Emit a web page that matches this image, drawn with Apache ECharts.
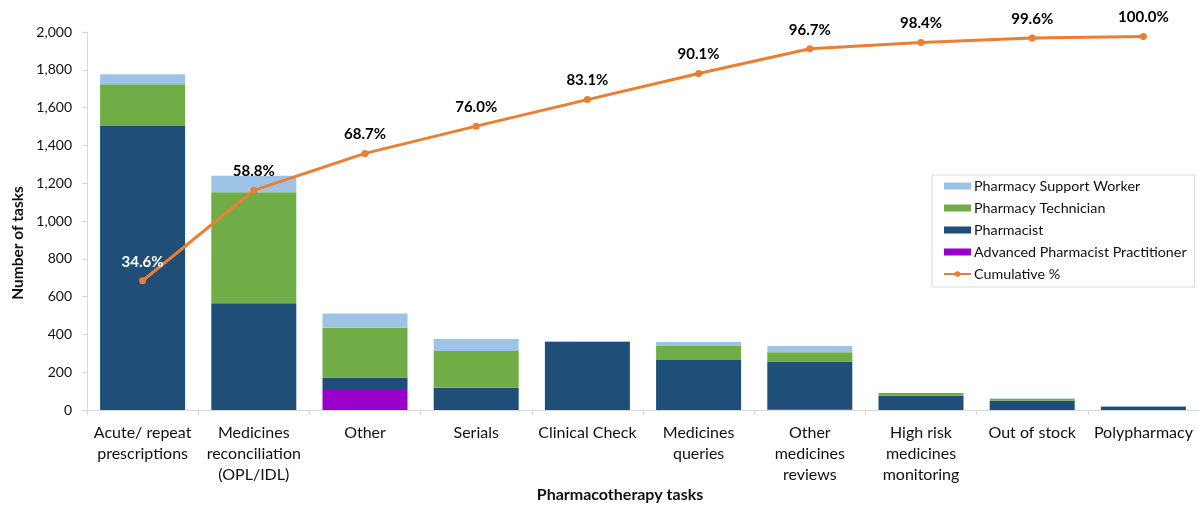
<!DOCTYPE html>
<html>
<head>
<meta charset="utf-8">
<script src="https://cdn.jsdelivr.net/npm/echarts@6/dist/echarts.min.js"></script>
<style>
  html, body { margin: 0; padding: 0; background: #fff; }
  #chart { width: 1199px; height: 505px; }
</style>
</head>
<body>
<div id="chart"></div>
<script>
// Pharmacotherapy tasks by staff group, with cumulative share (Pareto)
const categories = [
  'Acute/ repeat\nprescriptions',
  'Medicines\nreconciliation\n(OPL/IDL)',
  'Other',
  'Serials',
  'Clinical Check',
  'Medicines\nqueries',
  'Other\nmedicines\nreviews',
  'High risk\nmedicines\nmonitoring',
  'Out of stock',
  'Polypharmacy'
];
const advancedPractitioner = [0, 0, 111, 0, 0, 0, 3, 0, 0, 0];
const pharmacist           = [1503, 565, 60, 118, 361, 265, 254, 76, 49, 18];
const technician           = [220, 587, 264, 194, 2, 74, 49, 14, 9, 0];
const supportWorker        = [53, 88, 75, 64, 0, 21, 32, 0, 3, 3];
const cumulativePct        = [34.6, 58.8, 68.7, 76.0, 83.1, 90.1, 96.7, 98.4, 99.6, 100.0];
const yTicks = { min: 0, max: 2000, interval: 200 };

const FONT = 'Lato, "Noto Sans", sans-serif';
const TXT = '#111';

const chart = echarts.init(document.getElementById('chart'), null, { renderer: 'canvas' });

function barSeries(name, data, color) {
  return {
    name, type: 'bar', stack: 'tasks', data,
    barWidth: 85,
    itemStyle: { color },
    emphasis: { disabled: true }
  };
}

chart.setOption({
  animation: false,
  textStyle: { fontFamily: FONT },
  grid: { left: 87, right: 0, top: 32, bottom: 95, containLabel: false },
  graphic: [
    {
      type: 'text',
      x: 18, y: 243,
      rotation: Math.PI / 2,
      style: {
        text: 'Number of tasks',
        fontFamily: FONT, fontSize: 15.5, fontWeight: 'bold', fill: TXT,
        align: 'center', verticalAlign: 'middle'
      }
    },
    {
      type: 'text',
      x: 620, y: 495,
      style: {
        text: 'Pharmacotherapy tasks',
        fontFamily: FONT, fontSize: 16, fontWeight: 'bold', fill: TXT,
        align: 'center', verticalAlign: 'middle'
      }
    }
  ],
  legend: {
    orient: 'vertical',
    left: 932, top: 175,
    width: 262,
    padding: [4, 8, 6, 11],
    itemGap: 8,
    itemWidth: 27, itemHeight: 7,
    borderColor: '#d9d9d9', borderWidth: 1,
    textStyle: { fontFamily: FONT, fontSize: 14.3, color: TXT, padding: [0, 0, 0, -2] },
    data: [
      { name: 'Pharmacy Support Worker', icon: 'rect' },
      { name: 'Pharmacy Technician', icon: 'rect' },
      { name: 'Pharmacist', icon: 'rect' },
      { name: 'Advanced Pharmacist Practitioner', icon: 'rect' },
      { name: 'Cumulative %' }
    ]
  },
  xAxis: {
    type: 'category',
    data: categories,
    axisLine: { lineStyle: { color: '#d9d9d9', width: 1 } },
    axisTick: { show: true, length: 5, lineStyle: { color: '#d9d9d9' } },
    axisLabel: { fontFamily: FONT, fontSize: 16, color: TXT, margin: 12, lineHeight: 21, interval: 0 }
  },
  yAxis: [
    {
      type: 'value',
      min: yTicks.min, max: yTicks.max, interval: yTicks.interval,
      splitLine: { show: false },
      axisLine: { show: true, lineStyle: { color: '#d9d9d9', width: 1 } },
      axisTick: { show: true, length: 5, lineStyle: { color: '#d9d9d9' } },
      axisLabel: { fontFamily: FONT, fontSize: 14, color: TXT, margin: 15 }
    },
    {
      type: 'value',
      min: 0, max: 101.2,
      show: false,
      splitLine: { show: false }
    }
  ],
  series: [
    barSeries('Advanced Pharmacist Practitioner', advancedPractitioner, '#9900cc'),
    barSeries('Pharmacist', pharmacist, '#1f4e79'),
    barSeries('Pharmacy Technician', technician, '#70ad47'),
    barSeries('Pharmacy Support Worker', supportWorker, '#9dc3e6'),
    {
      name: 'Cumulative %',
      type: 'line',
      yAxisIndex: 1,
      data: cumulativePct.map((v, i) => i === 0
        ? { value: v, label: { color: '#ffffff' } }
        : v),
      symbol: 'circle',
      symbolSize: 7,
      lineStyle: { color: '#ed7d31', width: 3 },
      itemStyle: { color: '#ed7d31' },
      z: 5,
      label: {
        show: true,
        position: 'top',
        distance: 8,
        fontFamily: FONT,
        fontSize: 15,
        fontWeight: 'bold',
        color: '#000',
        formatter: p => p.value.toFixed(1) + '%'
      },
      emphasis: { disabled: true }
    }
  ]
});
</script>
</body>
</html>
